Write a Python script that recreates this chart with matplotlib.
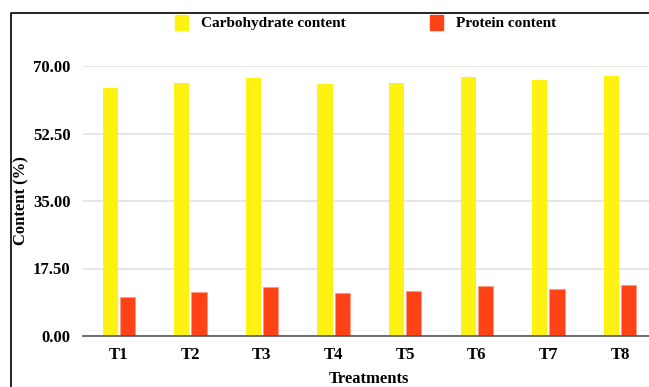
import numpy as np
import matplotlib.pyplot as plt
from matplotlib.patches import Rectangle

treatments = ['T1', 'T2', 'T3', 'T4', 'T5', 'T6', 'T7', 'T8']
carbohydrate = [64.3, 65.7, 66.9, 65.3, 65.6, 67.1, 66.3, 67.5]
protein = [10.1, 11.5, 12.7, 11.1, 11.6, 13.0, 12.1, 13.2]
yticks = [0, 17.5, 35, 52.5, 70]

plt.rcParams['font.family'] = ['Liberation Serif', 'DejaVu Serif']
plt.rcParams['font.weight'] = 'bold'

W, H = 649, 387
fig = plt.figure(figsize=(W / 100, H / 100), dpi=100)

# plot area in pixels: x from 83, slot width ~71.6, y0 at 336, y70 at 66
left, slot = 83, 71.6
ax = fig.add_axes([left / W, (H - 336) / H, 8 * slot / W, 270 / H])

x = np.arange(len(treatments))
bw = 0.21
ax.bar(x - bw / 2 - 0.015, carbohydrate, bw, color='#fff212', zorder=2)
ax.bar(x + bw / 2 + 0.015, protein, bw, color='#ff4316', edgecolor='#ff9a80',
       linewidth=0.6, zorder=2)

ax.set_xlim(-0.5, len(treatments) - 0.5)
ax.set_ylim(0, 70)
ax.set_yticks(yticks)
ax.set_yticklabels([f'{v:.2f}' for v in yticks])
ax.set_xticks(x)
ax.set_xticklabels(treatments)
ax.tick_params(length=0, labelsize=12)
ax.tick_params(axis='x', pad=8)
ax.tick_params(axis='y', pad=9)
ax.grid(axis='y', color='#e2e2e2', linewidth=1.2, zorder=0)
for s in ['top', 'right', 'left']:
    ax.spines[s].set_visible(False)
ax.spines['bottom'].set_color('#555555')
ax.spines['bottom'].set_linewidth(1.2)
ax.spines['bottom'].set_zorder(3)

fig.text(21 / W, 1 - 201 / H, 'Content (%)', fontsize=12, fontweight='bold',
         rotation=90, ha='center', va='center')
fig.text(369 / W, 1 - 379 / H, 'Treatments', fontsize=12, fontweight='bold',
         ha='center', va='center')

# legend
fig.patches.append(Rectangle((175 / W, 1 - 30 / H), 13 / W, 15 / H,
                             transform=fig.transFigure, color='#fff212'))
fig.text(201 / W, 1 - 23.5 / H, 'Carbohydrate content', fontsize=11,
         fontweight='bold', va='center', ha='left')
fig.patches.append(Rectangle((430 / W, 1 - 30 / H), 13 / W, 15 / H,
                             transform=fig.transFigure, color='#ff4316'))
fig.text(456 / W, 1 - 23.5 / H, 'Protein content', fontsize=11,
         fontweight='bold', va='center', ha='left')

# outer frame (top and left edges visible)
fig.lines.append(plt.Line2D([11 / W, 11 / W, 1], [0, 1 - 13 / H, 1 - 13 / H],
                            transform=fig.transFigure, color='black', linewidth=1.2))

fig.savefig('out.png', dpi=100)
